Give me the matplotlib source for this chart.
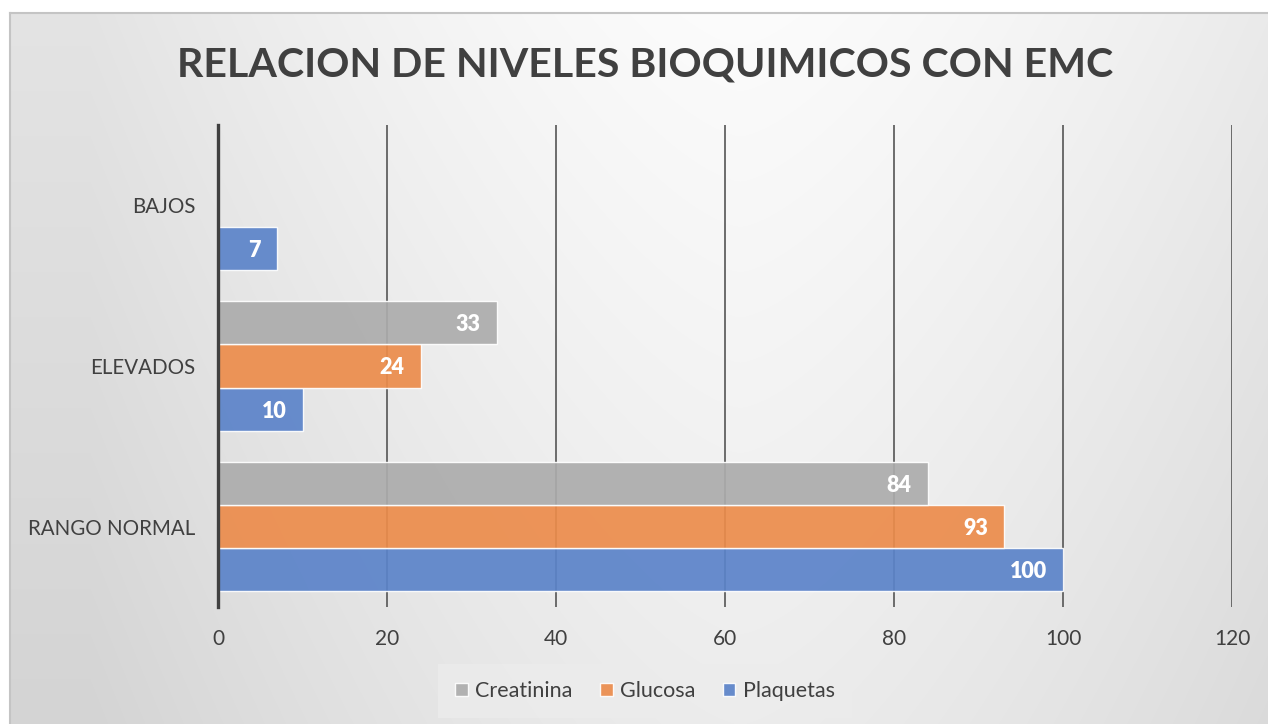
import matplotlib.pyplot as plt
import numpy as np

categories = ['RANGO NORMAL', 'ELEVADOS', 'BAJOS']
series = ['Plaquetas', 'Glucosa', 'Creatinina']
plaquetas = [100, 10, 7]
glucosa = [93, 24, 0]
creatinina = [84, 33, 0]
xticks = [0, 20, 40, 60, 80, 100, 120]

colors = {'Plaquetas': '#5b83c9', 'Glucosa': '#ec8c4b', 'Creatinina': '#acacac'}
values = {'Plaquetas': plaquetas, 'Glucosa': glucosa, 'Creatinina': creatinina}

plt.rcParams['font.family'] = ['Lato', 'DejaVu Sans']

W, H = 1268, 724
fig = plt.figure(figsize=(W / 100, H / 100), dpi=100)
fig.patch.set_facecolor('white')

# background gradient of the chart area
bg = fig.add_axes([10 / W, 0, 1 - 10 / W, 1 - 13 / H])
bg.set_zorder(-2)
xx, yy = np.meshgrid(np.arange(10, W), np.arange(13, H))
u = np.minimum(1, np.abs(xx - 740) / 650.0) ** 1.5
v = 252 - 24 * u - 16 * (yy / 724.0)
v = np.clip(v, 0, 255) / 255.0
bg.imshow(np.dstack([v, v, v]), aspect='auto', extent=[0, 1, 0, 1], origin='upper')
bg.set_xlim(0, 1)
bg.set_ylim(0, 1)
bg.set_xticks([])
bg.set_yticks([])
for s in ['left', 'top']:
    bg.spines[s].set_color('#c4c4c4')
    bg.spines[s].set_linewidth(1.5)
for s in ['right', 'bottom']:
    bg.spines[s].set_visible(False)

ax = fig.add_axes([218 / W, 1 - 607 / H, (1232 - 218) / W, (607 - 125) / H])
ax.patch.set_alpha(0)

y = np.arange(len(categories))
h = 43 / 160
offsets = {'Plaquetas': -h, 'Glucosa': 0, 'Creatinina': h}

for sname in series:
    vals = values[sname]
    bars = ax.barh(y + offsets[sname], vals, height=h, color=colors[sname],
                   alpha=0.92, edgecolor=(1, 1, 1, 0.6), linewidth=1, zorder=3,
                   label=sname)
    for b, val in zip(bars, vals):
        if val > 0:
            ax.text(val - 1.9, b.get_y() + b.get_height() / 2, str(val),
                    ha='right', va='center_baseline', color='white', fontsize=15.5,
                    fontweight='heavy', zorder=4)

ax.set_xlim(0, 120)
ax.set_ylim(-0.5, 2.5)
ax.set_xticks(xticks)
ax.set_xticklabels([str(t) for t in xticks], fontsize=15, color='#404040')
ax.set_yticks(y)
ax.set_yticklabels(categories, fontsize=14.8, color='#404040')
ax.tick_params(length=0)
ax.tick_params(axis='x', pad=16)
ax.tick_params(axis='y', pad=22)
for lbl in ax.get_yticklabels():
    lbl.set_x(8 / 1014)
for t in xticks[1:]:
    ax.axvline(t, color='#555555', linewidth=1.2, zorder=2)
for s in ['top', 'right', 'bottom']:
    ax.spines[s].set_visible(False)
ax.spines['left'].set_color('#404040')
ax.spines['left'].set_linewidth(2.4)
ax.spines['left'].set_zorder(5)

fig.text(645 / W, 1 - 65 / H, 'RELACION DE NIVELES BIOQUIMICOS CON EMC',
         ha='center', va='center', fontsize=29.6, fontweight='bold', color='#404040')

handles, labels = ax.get_legend_handles_labels()
order = [2, 1, 0]
leg = fig.legend([handles[i] for i in order], [labels[i] for i in order],
                 loc='center', bbox_to_anchor=(645 / W, 1 - 691 / H), ncol=3,
                 fontsize=15.5, frameon=True, handlelength=0.6, handleheight=0.6,
                 handletextpad=0.35, columnspacing=1.25, borderpad=0.5)
leg.get_frame().set_facecolor('#ececec')
leg.get_frame().set_alpha(0.8)
leg.get_frame().set_edgecolor('none')
leg.get_frame().set_boxstyle('square', pad=0.3)
for t in leg.get_texts():
    t.set_color('#404040')

fig.savefig('out.png', dpi=100)
